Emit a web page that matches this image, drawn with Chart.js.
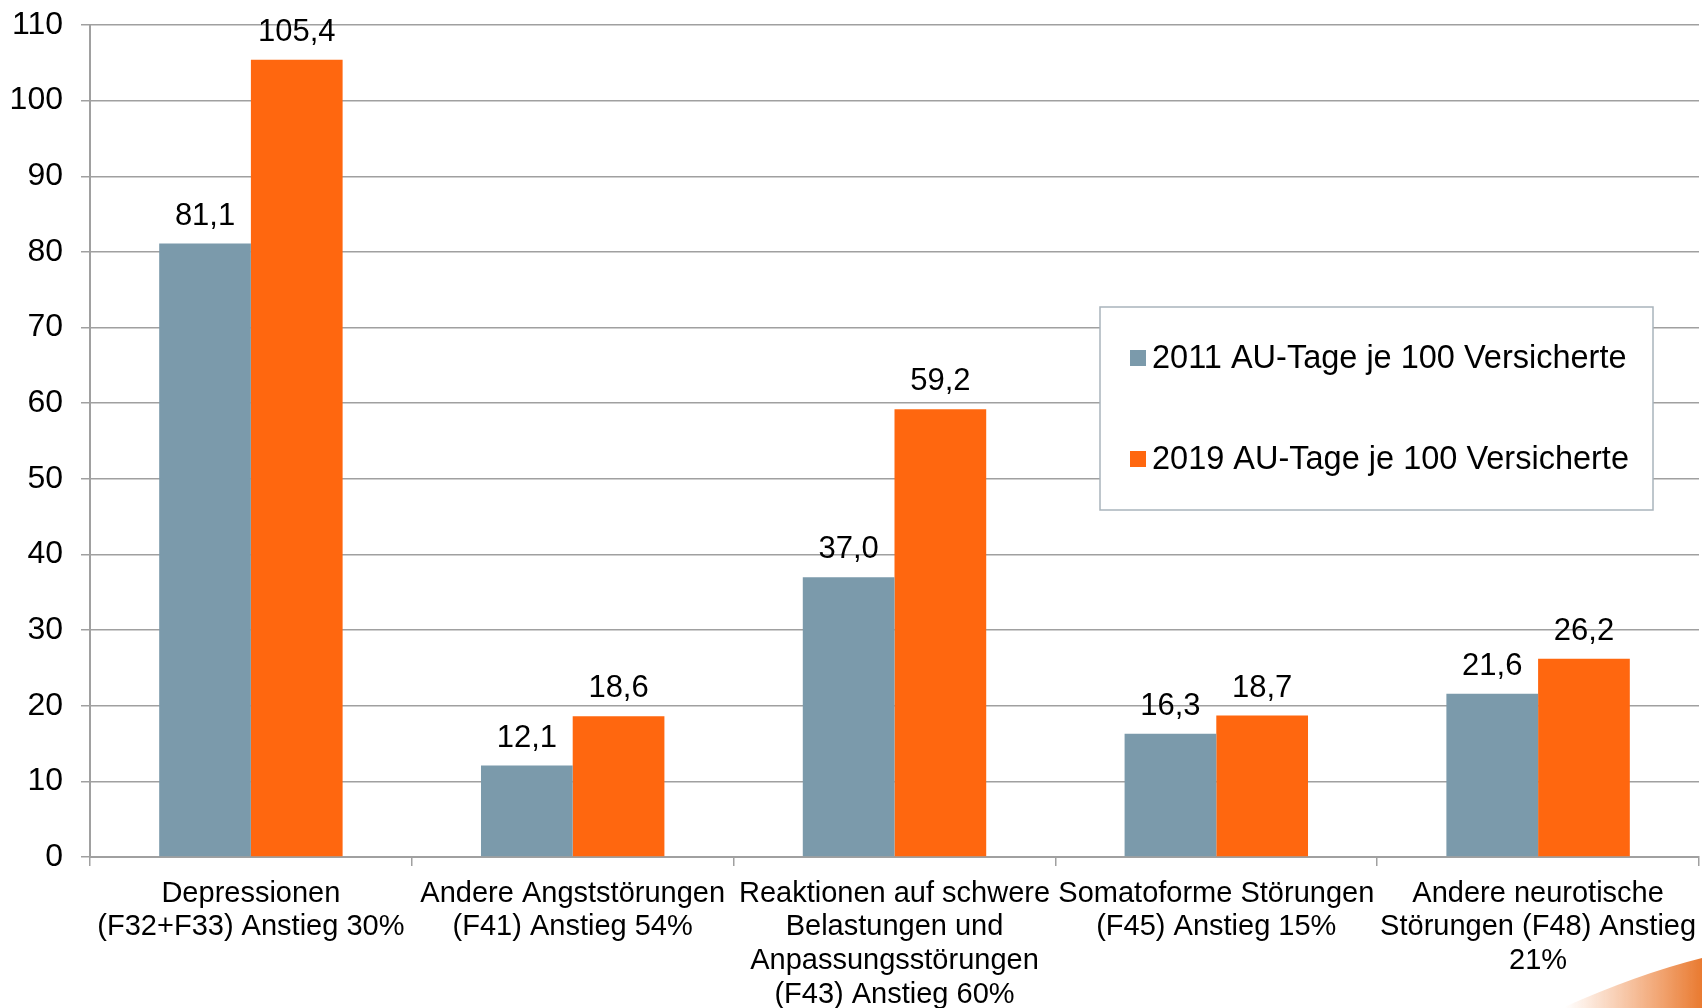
<!DOCTYPE html>
<html>
<head>
<meta charset="utf-8">
<script src="https://cdn.jsdelivr.net/npm/chart.js@4.4.1/dist/chart.umd.min.js"></script>
<style>
  html, body { margin: 0; padding: 0; background: #fff; }
  #wrap { width: 1702px; height: 1008px; position: relative; }
</style>
</head>
<body>
<div id="wrap"><canvas id="chart" width="1702" height="1008"></canvas></div>
<script>
/* values */
var categories = [
	["Depressionen", "(F32+F33) Anstieg 30%"],
	["Andere Angststörungen", "(F41) Anstieg 54%"],
	["Reaktionen auf schwere", "Belastungen und", "Anpassungsstörungen", "(F43) Anstieg 60%"],
	["Somatoforme Störungen", "(F45) Anstieg 15%"],
	["Andere neurotische", "Störungen (F48) Anstieg", "21%"]
];
var seriesNames = ["2011 AU-Tage je 100 Versicherte", "2019 AU-Tage je 100 Versicherte"];
var values2011 = [81.1, 12.1, 37.0, 16.3, 21.6];
var values2019 = [105.4, 18.6, 59.2, 18.7, 26.2];
var yMin = 0, yMax = 110, yStep = 10;

var greyBlue = "#7B9AAB";
var orange = "#FF670F";
var gridGrey = "#A0A0A0";
var fontFamily = "'Liberation Sans', Arial, sans-serif";

// value labels above each bar, German decimal comma
var barLabels = {
	id: 'barLabels',
	afterDatasetsDraw: function(chart) {
		var ctx = chart.ctx;
		ctx.save();
		ctx.font = "31px " + fontFamily;
		ctx.fillStyle = "#000";
		ctx.textAlign = "center";
		ctx.textBaseline = "bottom";
		chart.data.datasets.forEach(function(ds, i) {
			var meta = chart.getDatasetMeta(i);
			meta.data.forEach(function(bar, j) {
				var txt = ds.data[j].toFixed(1).replace('.', ',');
				ctx.fillText(txt, bar.x, bar.y - 12);
			});
		});
		ctx.restore();
	}
};

// boxed legend sitting on the plot, like the slide
var boxLegend = {
	id: 'boxLegend',
	afterDraw: function(chart) {
		var ctx = chart.ctx;
		var bx = 1100, by = 307, bw = 553, bh = 203;
		ctx.save();
		ctx.fillStyle = "#fff";
		ctx.fillRect(bx, by, bw, bh);
		ctx.strokeStyle = "#A9B4BC";
		ctx.lineWidth = 1.5;
		ctx.strokeRect(bx, by, bw, bh);
		ctx.font = "32.5px " + fontFamily;
		ctx.textBaseline = "middle";
		ctx.textAlign = "left";
		var rows = [358, 459];
		chart.data.datasets.forEach(function(ds, i) {
			ctx.fillStyle = ds.backgroundColor;
			ctx.fillRect(1130, rows[i] - 8, 16, 16);
			ctx.fillStyle = "#000";
			ctx.fillText(ds.label, 1152, rows[i] + 1);
		});

		// orange corner swoosh of the slide template
		var g = ctx.createLinearGradient(1565, 0, 1702, 0);
		g.addColorStop(0, "rgba(240,130,60,0)");
		g.addColorStop(1, "#E97A30");
		ctx.fillStyle = g;
		ctx.beginPath();
		ctx.moveTo(1562, 1008);
		ctx.quadraticCurveTo(1638, 974, 1702, 958);
		ctx.lineTo(1702, 1008);
		ctx.closePath();
		ctx.fill();
		ctx.restore();
	}
};

var ctx = document.getElementById('chart');

var chart = new Chart(ctx, {
	type: 'bar',
	data: {
		labels: categories,
		datasets: [{
			label: seriesNames[0],
			data: values2011,
			backgroundColor: greyBlue,
			borderWidth: 0
		}, {
			label: seriesNames[1],
			data: values2019,
			backgroundColor: orange,
			borderWidth: 0
		}]
	},
	options: {
		responsive: false,
		animation: false,
		layout: { padding: { left: 0, right: 3, top: 25, bottom: 0 } },
		plugins: {
			legend: { display: false },
			tooltip: { enabled: false }
		},
		datasets: {
			bar: { categoryPercentage: 0.57, barPercentage: 1.0 }
		},
		scales: {
			x: {
				grid: {
					display: true,
					drawOnChartArea: false,
					drawTicks: true,
					tickLength: 9,
					color: gridGrey,
					lineWidth: 1.5
				},
				border: { color: gridGrey, width: 2 },
				ticks: {
					autoSkip: false,
					maxRotation: 0,
					minRotation: 0,
					padding: 11,
					color: "#000",
					font: { family: fontFamily, size: 29, lineHeight: 1.16 }
				},
				afterFit: function(scale) {
					scale.height = 151;
					scale.paddingLeft = 0;
					scale.paddingRight = 0;
				}
			},
			y: {
				min: yMin,
				max: yMax,
				ticks: {
					stepSize: yStep,
					padding: 18,
					color: "#000",
					font: { family: fontFamily, size: 32 }
				},
				grid: {
					color: gridGrey,
					lineWidth: 1.5,
					tickLength: 9
				},
				border: { color: gridGrey, width: 2 },
				afterFit: function(scale) {
					scale.width = 90;
					scale.paddingTop = 0;
					scale.paddingBottom = 0;
				}
			}
		}
	},
	plugins: [barLabels, boxLegend]
});
</script>
</body>
</html>
